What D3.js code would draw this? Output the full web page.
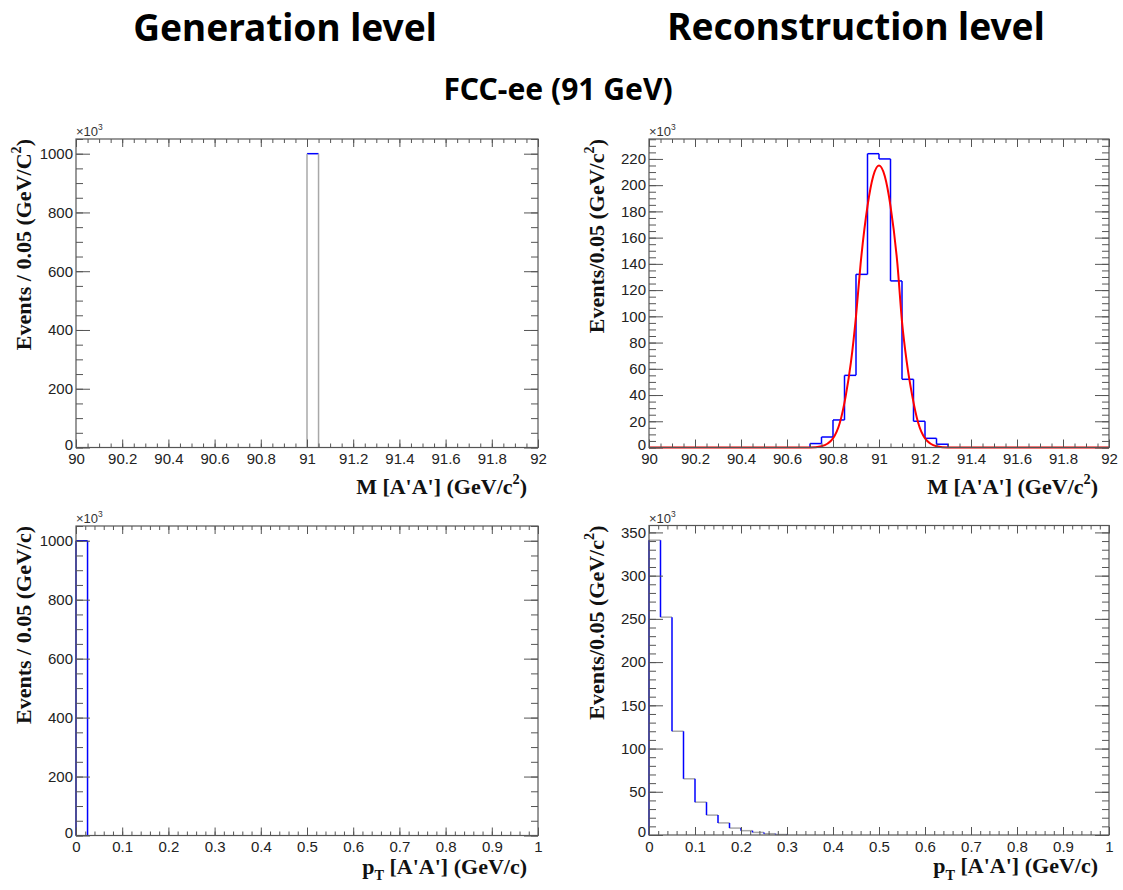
<!DOCTYPE html>
<html>
<head>
<meta charset="utf-8">
<script src="https://cdn.jsdelivr.net/npm/d3@7"></script>
<style>
  body { margin: 0; background: #fff; }
</style>
</head>
<body>
<svg id="chart" width="1123" height="890"></svg>
<script>
// generation level histograms (x10^3 events)
var genMassLow = [91.00];
var genMassCount = [1000];
var genPtLow = [0.0];
var genPtCount = [1000];

// reconstruction level histograms (x10^3 events)
var recoMassLow = [90.70, 90.75, 90.80, 90.85, 90.90, 90.95, 91.00, 91.05, 91.10, 91.15, 91.20, 91.25];
var recoMassCount = [3, 8, 21, 55, 132, 224, 220, 127, 52, 20, 7, 2.5];
var recoPtLow = [0, 0.025, 0.05, 0.075, 0.1, 0.125, 0.15, 0.175, 0.2, 0.225, 0.25, 0.275];
var recoPtCount = [341, 252, 120, 65, 38, 23, 14, 8, 5, 3, 1.5, 0.5];

// gaussian fit curve
var fitMass  = [90.00, 90.70, 90.75, 90.80, 90.83, 90.855, 90.878, 90.90, 90.92, 90.95, 90.975, 91.00,
                91.025, 91.05, 91.08, 91.10, 91.12, 91.145, 91.17, 91.20, 91.25, 91.30, 92.00];
var fitValue = [0, 0, 1, 7, 19, 39, 65, 100, 140, 184, 207, 215,
                207, 184, 140, 96, 66, 39, 19, 7, 1, 0, 0];

// tick labels
var massTicks = [90, 90.2, 90.4, 90.6, 90.8, 91, 91.2, 91.4, 91.6, 91.8, 92];
var ptTicks = [0, 0.1, 0.2, 0.3, 0.4, 0.5, 0.6, 0.7, 0.8, 0.9, 1];
var genYTicks = [0, 200, 400, 600, 800, 1000];
var recoMassYTicks = [0, 20, 40, 60, 80, 100, 120, 140, 160, 180, 200, 220];
var recoPtYTicks = [0, 50, 100, 150, 200, 250, 300, 350];

var svg = d3.select("#chart");
var fmt = d3.format("~g");
var BLUE = "#0000ff", GRAY = "#a8a8a8", FRAME = "#555";
var headFont = "'Noto Sans', 'Open Sans', sans-serif";

// headers
svg.append("text").attr("x", 285).attr("y", 41).attr("text-anchor", "middle")
  .style("font", "bold 37px " + headFont).text("Generation level");
svg.append("text").attr("x", 856).attr("y", 40).attr("text-anchor", "middle")
  .style("font", "bold 37px " + headFont).text("Reconstruction level");
svg.append("text").attr("x", 558).attr("y", 100).attr("text-anchor", "middle")
  .style("font", "bold 30px " + headFont).text("FCC-ee (91 GeV)");

function richText(sel, parts, size) {
  var shift = 0;
  parts.forEach(function(p) {
    var ts = sel.append("tspan").text(p.t);
    var s = p.sup ? -0.45 * size : (p.sub ? 0.3 * size : 0);
    if (s !== shift) ts.attr("dy", s - shift);
    if (p.sup || p.sub) ts.attr("font-size", size * 0.65);
    shift = s;
  });
}

function steps(lo, hi, step) {
  return d3.range(Math.round((hi - lo) / step) + 1).map(function(i) { return lo + i * step; });
}

function panel(p) {
  var W = p.width, H = p.height;
  var g = svg.append("g").attr("transform", "translate(" + p.left + "," + p.top + ")");
  var x = d3.scaleLinear().domain(p.xDomain).range([0, W]);
  var y = d3.scaleLinear().domain(p.yDomain).range([H, 0]);

  // histogram outline: horizontal and vertical segments separately coloured
  var edges = p.low.concat([p.low[p.low.length - 1] + p.binWidth]);
  p.count.forEach(function(c, i) {
    g.append("line")
      .attr("x1", x(edges[i])).attr("x2", x(edges[i + 1]))
      .attr("y1", y(c)).attr("y2", y(c))
      .attr("stroke", p.hColor).attr("stroke-width", 1.5);
  });
  edges.forEach(function(e, i) {
    var a = i > 0 ? p.count[i - 1] : 0;
    var b = i < p.count.length ? p.count[i] : 0;
    g.append("line")
      .attr("x1", x(e)).attr("x2", x(e))
      .attr("y1", y(a)).attr("y2", y(b))
      .attr("stroke", p.vColor).attr("stroke-width", 1.5);
  });

  if (p.fitX) {
    var line = d3.line()
      .x(function(d) { return x(d[0]); })
      .y(function(d) { return y(d[1]); })
      .curve(d3.curveMonotoneX);
    g.append("path")
      .datum(d3.zip(p.fitX, p.fitY))
      .attr("d", line)
      .attr("fill", "none").attr("stroke", "#ff0000").attr("stroke-width", 2);
  }

  // axes, ROOT style ticks pointing inside the frame
  var labelFont = "15px 'Liberation Sans', Arial, sans-serif";
  var xMinor = steps(p.xDomain[0], p.xDomain[1], p.xMinor);
  var yMinor = steps(0, p.yDomain[1], p.yMinor).filter(function(v) { return v <= p.yDomain[1]; });

  function styleAxis(a) {
    a.select(".domain").remove();
    a.selectAll("line").attr("stroke", FRAME);
    a.selectAll("text").style("font", labelFont).attr("fill", "#222");
  }

  g.append("g").attr("transform", "translate(0," + H + ")")
    .call(d3.axisBottom(x).tickValues(xMinor).tickSize(-4).tickFormat("")).call(styleAxis);
  g.append("g").attr("transform", "translate(0," + H + ")")
    .call(d3.axisBottom(x).tickValues(p.xTicks).tickSize(-8).tickPadding(6).tickFormat(fmt)).call(styleAxis);
  g.append("g")
    .call(d3.axisTop(x).tickValues(xMinor).tickSize(-4).tickFormat("")).call(styleAxis);
  g.append("g")
    .call(d3.axisTop(x).tickValues(p.xTicks).tickSize(-8).tickFormat("")).call(styleAxis);

  g.append("g")
    .call(d3.axisLeft(y).tickValues(yMinor).tickSize(-7).tickFormat("")).call(styleAxis);
  var yl = g.append("g")
    .call(d3.axisLeft(y).tickValues(p.yTicks).tickSize(-14).tickPadding(3).tickFormat(fmt)).call(styleAxis);
  // lift the zero label a little so it clears the x labels
  yl.selectAll(".tick").filter(function(d) { return d === 0; }).select("text").attr("dy", "0.1em");
  g.append("g").attr("transform", "translate(" + W + ",0)")
    .call(d3.axisRight(y).tickValues(yMinor).tickSize(-7).tickFormat("")).call(styleAxis);
  g.append("g").attr("transform", "translate(" + W + ",0)")
    .call(d3.axisRight(y).tickValues(p.yTicks).tickSize(-14).tickFormat("")).call(styleAxis);

  g.append("rect").attr("width", W).attr("height", H)
    .attr("fill", "none").attr("stroke", FRAME).attr("stroke-width", 1.2);

  // x10^3 multiplier
  var mult = g.append("text").attr("x", 0).attr("y", -3)
    .style("font", "13px 'Liberation Sans', Arial, sans-serif").attr("fill", "#333");
  richText(mult, [{t: "\u00d710"}, {t: "3", sup: true}], 13);

  var titleFont = "bold 22px 'Liberation Serif', 'Times New Roman', serif";
  var xt = g.append("text").attr("x", W - 11).attr("y", H + p.xTitleDy)
    .attr("text-anchor", "end").style("font", titleFont).attr("fill", "#111");
  richText(xt, p.xTitle, 22);

  var yt = g.append("text")
    .attr("transform", "translate(" + p.yTitleX + ",0) rotate(-90)")
    .attr("text-anchor", "end").style("font", titleFont).attr("fill", "#111");
  richText(yt, p.yTitle, 22);
}

var massTitle = [{t: "M [A'A'] (GeV/c"}, {t: "2", sup: true}, {t: ")"}];
var ptTitle = [{t: "p"}, {t: "T", sub: true}, {t: " [A'A'] (GeV/c)"}];

panel({
  left: 76, top: 139, width: 462, height: 308.5,
  xDomain: [90, 92], yDomain: [0, 1050],
  xTicks: massTicks, xMinor: 0.05, yTicks: genYTicks, yMinor: 50,
  low: genMassLow, count: genMassCount, binWidth: 0.05, hColor: BLUE, vColor: GRAY,
  xTitle: massTitle, xTitleDy: 46,
  yTitle: [{t: "Events / 0.05 (GeV/C"}, {t: "2", sup: true}, {t: ")"}], yTitleX: -45
});

panel({
  left: 649, top: 139, width: 460, height: 308.5,
  xDomain: [90, 92], yDomain: [0, 235.2],
  xTicks: massTicks, xMinor: 0.05, yTicks: recoMassYTicks, yMinor: 5,
  low: recoMassLow, count: recoMassCount, binWidth: 0.05, hColor: BLUE, vColor: BLUE,
  fitX: fitMass, fitY: fitValue,
  xTitle: massTitle, xTitleDy: 46,
  yTitle: [{t: "Events/0.05 (GeV/c"}, {t: "2", sup: true}, {t: ")"}], yTitleX: -45
});

panel({
  left: 76, top: 526, width: 462, height: 309.5,
  xDomain: [0, 1], yDomain: [0, 1050],
  xTicks: ptTicks, xMinor: 0.02, yTicks: genYTicks, yMinor: 50,
  low: genPtLow, count: genPtCount, binWidth: 0.025, hColor: BLUE, vColor: BLUE,
  xTitle: ptTitle, xTitleDy: 38,
  yTitle: [{t: "Events / 0.05 (GeV/c)"}], yTitleX: -45
});

panel({
  left: 649, top: 525.5, width: 460, height: 309.5,
  xDomain: [0, 1], yDomain: [0, 358],
  xTicks: ptTicks, xMinor: 0.02, yTicks: recoPtYTicks, yMinor: 10,
  low: recoPtLow, count: recoPtCount, binWidth: 0.025, hColor: GRAY, vColor: BLUE,
  xTitle: ptTitle, xTitleDy: 38,
  yTitle: [{t: "Events/0.05 (GeV/c"}, {t: "2", sup: true}, {t: ")"}], yTitleX: -45
});
</script>
</body>
</html>
